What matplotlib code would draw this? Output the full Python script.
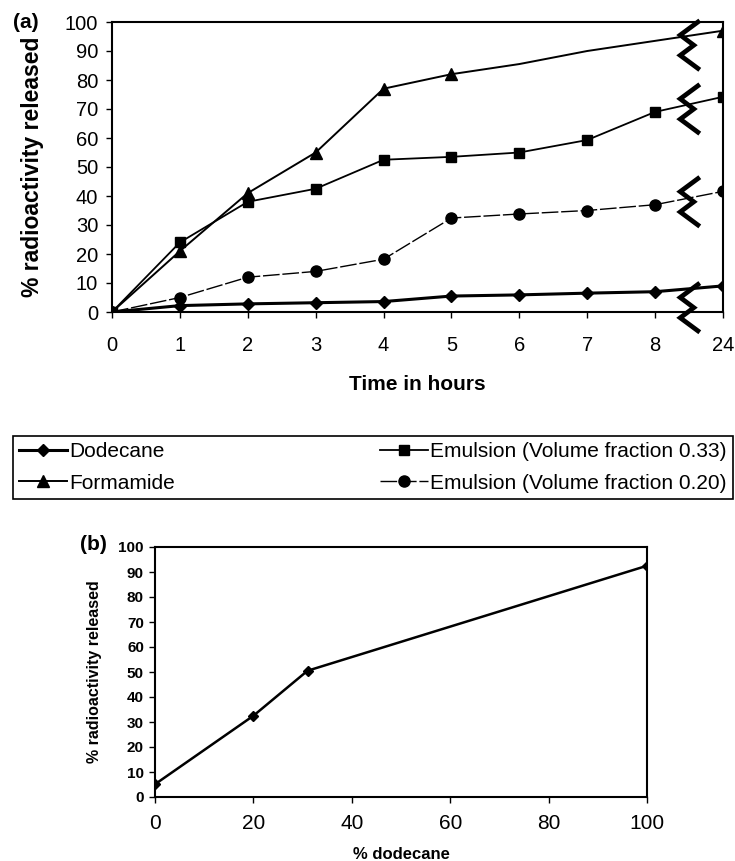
import matplotlib
matplotlib.use("Agg")
import matplotlib.pyplot as plt

plt.rcParams['font.family'] = ['Liberation Sans', 'DejaVu Sans']

# panel (a) - release vs time
time_labels = ["0", "1", "2", "3", "4", "5", "6", "7", "8", "24"]
time_pos = list(range(len(time_labels)))
dodecane = [0, 2.2, 2.8, 3.2, 3.6, 5.5, 5.9, 6.5, 7.0, 9.0]
formamide = [0, 21, 41, 55, 77, 82, 85.5, 90, 93.5, 97]
emul_033 = [0, 24, 38, 42.5, 52.5, 53.5, 55, 59.3, 69, 74.2]
emul_020 = [0, 5, 12, 14, 18.2, 32.4, 33.8, 35, 37, 41.6]

# panel (b) - release vs % dodecane
pct_dodecane = [0, 20, 31, 100]
release_b = [5.1, 32.5, 50.5, 92.5]

# where the axis break sits and the y centre of each break mark
break_x = 8.5
break_y = [92, 70, 38, 1.5]

W, H = 735, 861
fig = plt.figure(figsize=(W / 100, H / 100), dpi=100)

ax = fig.add_axes([112 / W, 1 - 312 / H, 611 / W, 290 / H])
ax.plot(time_pos, dodecane, color="black", lw=2.2, marker="D", ms=6, label="Dodecane")
ax.plot(time_pos, formamide, color="black", lw=1.4, marker="^", ms=8,
        markevery=[0, 1, 2, 3, 4, 5, 9], label="Formamide")
ax.plot(time_pos, emul_033, color="black", lw=1.3, marker="s", ms=7.5,
        label="Emulsion (Volume fraction 0.33)")
ax.plot(time_pos, emul_020, color="black", lw=1.0, ls=(0, (12, 2)), marker="o", ms=8,
        label="Emulsion (Volume fraction 0.20)")

# zigzag break symbols
zx = [0.13, -0.13, 0.07, -0.13, 0.13]
zy = [8, 3.5, 0, -3.5, -8]
for yc in break_y:
    ax.plot([break_x + a for a in zx], [yc + b for b in zy], color="black",
            lw=3.4, solid_joinstyle="miter", clip_on=False, zorder=5)

ax.set_xlim(0, 9)
ax.set_ylim(0, 100)
ax.set_xticks(time_pos)
ax.set_xticklabels(time_labels)
ax.set_yticks(range(0, 101, 10))
ax.tick_params(axis="both", direction="out", length=4, width=1, labelsize=14.5)
ax.tick_params(axis="x", pad=13)
ax.tick_params(axis="y", pad=6)
for s in ax.spines.values():
    s.set_linewidth(1.5)
ax.set_xlabel("Time in hours", fontsize=15, fontweight="bold", labelpad=15)
ax.set_ylabel("% radioactivity released", fontsize=16.5, fontweight="bold", labelpad=15)
fig.text(13 / W, 1 - 23 / H, "(a)", fontsize=15, fontweight="bold", va="center")

fig.legend(loc="center", ncol=2, mode="expand",
           bbox_to_anchor=(13 / W, 1 - 507 / H, 720 / W, 79 / H),
           borderaxespad=0, fontsize=15, handlelength=2.3, handletextpad=0.1,
           frameon=True, fancybox=False, edgecolor="black", framealpha=1,
           labelspacing=0.6, borderpad=0.3)
fig.legends[0].get_frame().set_linewidth(1.2)

bx = fig.add_axes([155 / W, 1 - 797 / H, 492 / W, 250 / H])
bx.plot(pct_dodecane, release_b, color="black", lw=1.8, marker="D", ms=5.5)
bx.set_xlim(0, 100)
bx.set_ylim(0, 100)
bx.set_xticks(range(0, 101, 20))
bx.set_yticks(range(0, 101, 10))
bx.tick_params(axis="both", direction="out", length=4, width=1)
bx.tick_params(axis="x", labelsize=15, pad=8)
bx.tick_params(axis="y", labelsize=11, pad=4)
for lab in bx.get_yticklabels():
    lab.set_fontweight("bold")
for s in bx.spines.values():
    s.set_linewidth(1.5)
bx.set_xlabel("% dodecane", fontsize=12, fontweight="bold", labelpad=10)
bx.set_ylabel("% radioactivity released", fontsize=11.5, fontweight="bold", labelpad=12)
fig.text(80 / W, 1 - 545 / H, "(b)", fontsize=15, fontweight="bold", va="center")

fig.savefig("out.png", dpi=100)
